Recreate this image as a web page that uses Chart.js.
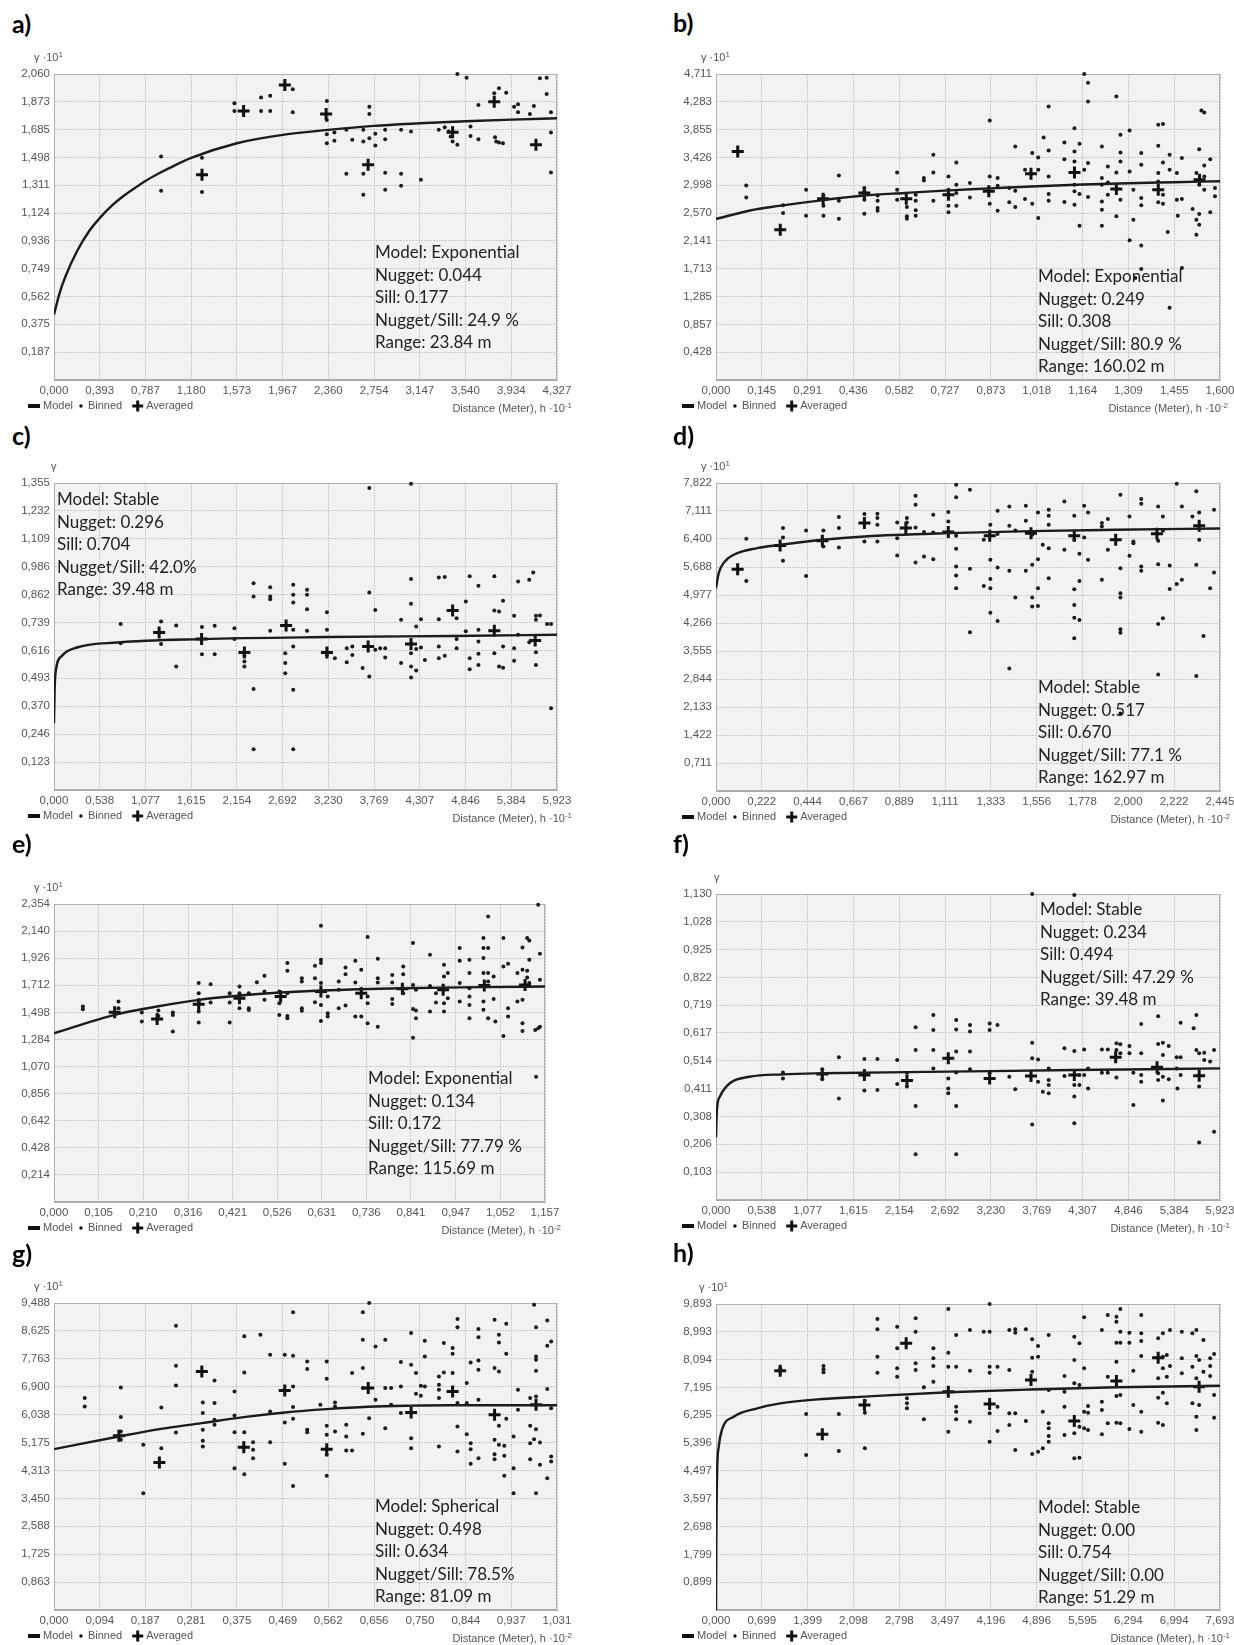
<!DOCTYPE html>
<html>
<head>
<meta charset="utf-8">
<script src="https://cdn.jsdelivr.net/npm/chart.js@4.4.0/dist/chart.umd.min.js"></script>
<style>
  html, body { margin: 0; padding: 0; background: #fff; width: 1234px; height: 1645px; overflow: hidden; position: relative; }
  canvas { position: absolute; }
  .lbl { position: absolute; font: bold 25px Lato, sans-serif; line-height: 30px; color: #000; }
  .note { position: absolute; font: 17px Lato, sans-serif; line-height: 22.5px; color: #222; white-space: pre; }
  .gam, .dist { position: absolute; font: 11px "Liberation Sans", Arial, sans-serif; line-height: 13px; color: #555; white-space: nowrap; }
  sup { font-size: 8px; vertical-align: 4px; line-height: 0; }
</style>
</head>
<body>
<script>
// ---- panel a ----
const aXTicks = ['0,000','0,393','0,787','1,180','1,573','1,967','2,360','2,754','3,147','3,540','3,934','4,327'];
const aYTicks = ['0,187','0,375','0,562','0,749','0,936','1,124','1,311','1,498','1,685','1,873','2,060'];
const aModel = [[0,0.44],[0.05,0.59],[0.1,0.70],[0.2,0.87],[0.3,1.0],[0.393,1.09],[0.5,1.175],[0.6,1.24],[0.7,1.295],[0.787,1.34],[0.9,1.39],[1.0,1.43],[1.18,1.495],[1.573,1.594],[1.967,1.65],[2.36,1.684],[2.754,1.711],[3.147,1.728],[3.54,1.742],[3.934,1.753],[4.327,1.762]];
const aBinned = [[0.921,1.505],[0.921,1.274],[1.273,1.496],[1.273,1.265],[1.552,1.863],[1.552,1.811],[1.781,1.901],[1.781,1.811],[1.860,1.914],[1.860,1.811],[2.054,1.957],[2.054,1.802],[2.347,1.878],[2.347,1.751],[2.347,1.655],[2.347,1.594],[2.412,1.666],[2.412,1.610],[2.515,1.684],[2.515,1.388],[2.566,1.617],[2.661,1.684],[2.661,1.605],[2.661,1.388],[2.661,1.247],[2.713,1.840],[2.713,1.791],[2.713,1.628],[2.764,1.657],[2.764,1.578],[2.849,1.684],[2.849,1.621],[2.849,1.395],[2.849,1.281],[2.986,1.684],[2.986,1.388],[2.986,1.308],[3.071,1.673],[3.156,1.348],[3.310,1.684],[3.361,1.702],[3.395,1.673],[3.412,1.639],[3.429,1.605],[3.470,1.583],[3.470,2.060],[3.549,2.035],[3.583,1.706],[3.583,1.643],[3.651,1.852],[3.651,1.621],[3.787,1.930],[3.794,1.634],[3.804,1.605],[3.828,1.964],[3.828,1.599],[3.862,1.594],[3.890,1.934],[3.958,1.840],[3.992,1.856],[3.992,1.802],[4.094,1.791],[4.128,1.845],[4.180,2.031],[4.238,2.035],[4.238,1.926],[4.275,1.802],[4.275,1.666],[4.275,1.397]];
const aAveraged = [[1.273,1.381],[1.631,1.811],[1.986,1.986],[2.341,1.791],[2.702,1.449],[3.429,1.668],[3.787,1.874],[4.146,1.583]];
const aNote = ['Model: Exponential','Nugget: 0.044','Sill: 0.177','Nugget/Sill: 24.9 %','Range: 23.84 m'];

// ---- panel b ----
const bXTicks = ['0,000','0,145','0,291','0,436','0,582','0,727','0,873','1,018','1,164','1,309','1,455','1,600'];
const bYTicks = ['0,428','0,857','1,285','1,713','2,141','2,570','2,998','3,426','3,855','4,283','4,711'];
const bModel = [[0,2.48],[0.108,2.61],[0.2,2.68],[0.34,2.77],[0.47,2.84],[0.6,2.88],[0.74,2.92],[0.87,2.95],[1.0,2.98],[1.164,3.01],[1.309,3.03],[1.455,3.045],[1.6,3.06]];
const bBinned = [[0.096,2.996],[0.096,2.811],[0.213,2.689],[0.213,2.571],[0.286,2.929],[0.286,2.530],[0.341,2.837],[0.341,2.683],[0.341,2.530],[0.390,3.149],[0.390,2.760],[0.390,2.484],[0.471,2.955],[0.471,2.904],[0.471,2.776],[0.471,2.561],[0.513,2.842],[0.513,2.760],[0.513,2.648],[0.513,2.607],[0.575,3.196],[0.575,2.929],[0.575,2.776],[0.606,2.663],[0.606,2.520],[0.606,2.484],[0.634,2.852],[0.634,2.760],[0.634,2.612],[0.634,2.530],[0.660,3.108],[0.660,3.073],[0.690,3.467],[0.690,3.196],[0.690,2.760],[0.738,3.134],[0.738,2.929],[0.738,2.683],[0.738,2.581],[0.763,3.349],[0.763,3.006],[0.763,2.878],[0.763,2.683],[0.806,3.032],[0.806,2.811],[0.869,3.995],[0.869,3.134],[0.869,2.714],[0.894,3.108],[0.894,2.991],[0.894,2.607],[0.931,2.955],[0.931,2.735],[0.950,3.595],[0.950,2.914],[0.950,2.663],[0.981,3.237],[0.981,2.786],[1.004,3.493],[1.004,2.714],[1.023,3.426],[1.023,3.237],[1.023,2.494],[1.040,3.733],[1.056,4.209],[1.056,3.533],[1.056,3.134],[1.056,2.863],[1.056,2.760],[1.106,3.656],[1.106,3.400],[1.106,2.740],[1.138,3.877],[1.138,3.518],[1.138,3.365],[1.138,3.006],[1.138,2.904],[1.138,2.699],[1.154,3.636],[1.154,2.863],[1.154,2.376],[1.169,4.711],[1.169,3.237],[1.181,4.578],[1.181,4.286],[1.181,3.339],[1.181,2.816],[1.225,3.595],[1.225,3.108],[1.225,3.006],[1.225,2.750],[1.225,2.622],[1.225,2.376],[1.244,3.288],[1.244,3.042],[1.244,2.852],[1.271,4.363],[1.271,3.196],[1.271,2.520],[1.284,3.774],[1.284,3.503],[1.284,3.365],[1.284,2.776],[1.313,3.841],[1.313,3.211],[1.313,2.151],[1.325,2.929],[1.325,2.468],[1.331,1.572],[1.350,3.493],[1.350,3.313],[1.350,2.801],[1.350,2.689],[1.350,2.069],[1.350,1.710],[1.404,3.928],[1.404,3.605],[1.404,3.185],[1.404,3.057],[1.404,2.735],[1.419,3.943],[1.419,3.349],[1.419,2.852],[1.419,2.714],[1.434,2.279],[1.440,3.467],[1.440,3.237],[1.440,1.111],[1.463,3.185],[1.463,2.776],[1.466,2.530],[1.479,3.416],[1.479,2.786],[1.479,1.726],[1.513,2.632],[1.525,3.185],[1.525,2.468],[1.525,2.238],[1.534,3.554],[1.534,3.006],[1.534,2.555],[1.534,2.391],[1.541,4.148],[1.550,4.117],[1.550,3.303],[1.550,3.134],[1.550,2.929],[1.569,3.400],[1.569,2.581],[1.584,2.955],[1.584,2.827]];
const bAveraged = [[0.069,3.518],[0.204,2.315],[0.340,2.791],[0.471,2.878],[0.604,2.791],[0.738,2.852],[0.866,2.904],[1.000,3.175],[1.138,3.196],[1.271,2.939],[1.404,2.929],[1.535,3.083]];
const bNote = ['Model: Exponential','Nugget: 0.249','Sill: 0.308','Nugget/Sill: 80.9 %','Range: 160.02 m'];

// ---- panel c ----
const cXTicks = ['0,000','0,538','1,077','1,615','2,154','2,692','3,230','3,769','4,307','4,846','5,384','5,923'];
const cYTicks = ['0,123','0,246','0,370','0,493','0,616','0,739','0,862','0,986','1,109','1,232','1,355'];
const cModel = [[0,0.295],[0.008,0.45],[0.023,0.53],[0.093,0.592],[0.28,0.630],[0.747,0.651],[1.738,0.666],[3.214,0.675],[4.694,0.680],[5.923,0.685]];
const cBinned = [[0.785,0.733],[0.785,0.648],[1.261,0.744],[1.261,0.644],[1.439,0.545],[1.439,0.726],[1.742,0.719],[1.742,0.599],[1.892,0.725],[1.892,0.599],[2.125,0.714],[2.125,0.666],[2.242,0.592],[2.242,0.567],[2.242,0.545],[2.350,0.913],[2.350,0.854],[2.350,0.446],[2.350,0.180],[2.546,0.895],[2.546,0.854],[2.546,0.842],[2.546,0.703],[2.723,0.604],[2.723,0.560],[2.723,0.515],[2.817,0.906],[2.817,0.862],[2.817,0.828],[2.817,0.707],[2.817,0.633],[2.817,0.442],[2.817,0.180],[2.980,0.884],[2.980,0.862],[2.980,0.798],[2.980,0.703],[3.214,0.784],[3.214,0.707],[3.214,0.596],[3.307,0.582],[3.447,0.626],[3.447,0.564],[3.513,0.633],[3.513,0.596],[3.634,0.538],[3.713,1.333],[3.713,0.872],[3.713,0.501],[3.783,0.795],[3.783,0.619],[3.840,0.626],[3.900,0.626],[3.900,0.585],[4.087,0.751],[4.087,0.560],[4.204,1.352],[4.204,0.931],[4.204,0.822],[4.204,0.604],[4.204,0.545],[4.204,0.496],[4.265,0.722],[4.265,0.622],[4.265,0.527],[4.321,0.754],[4.321,0.629],[4.367,0.574],[4.531,0.938],[4.531,0.754],[4.531,0.633],[4.531,0.582],[4.601,0.940],[4.601,0.592],[4.741,0.758],[4.741,0.667],[4.741,0.626],[4.849,0.832],[4.849,0.701],[4.895,0.943],[4.895,0.582],[4.895,0.533],[4.998,0.901],[4.998,0.707],[4.998,0.655],[4.998,0.601],[4.998,0.552],[5.185,0.943],[5.185,0.792],[5.185,0.604],[5.241,0.788],[5.241,0.545],[5.288,0.835],[5.288,0.633],[5.288,0.540],[5.418,0.769],[5.418,0.626],[5.418,0.570],[5.465,0.920],[5.465,0.685],[5.596,0.928],[5.596,0.652],[5.643,0.960],[5.675,0.769],[5.675,0.751],[5.675,0.608],[5.675,0.552],[5.722,0.770],[5.806,0.733],[5.853,0.733],[5.853,0.361]];
const cAveraged = [[1.238,0.695],[1.738,0.666],[2.242,0.607],[2.733,0.726],[3.214,0.607],[3.699,0.633],[4.204,0.644],[4.694,0.792],[5.185,0.703],[5.666,0.660]];
const cNote = ['Model: Stable','Nugget: 0.296','Sill: 0.704','Nugget/Sill: 42.0%','Range: 39.48 m'];

// ---- panel d ----
const dXTicks = ['0,000','0,222','0,444','0,667','0,889','1,111','1,333','1,556','1,778','2,000','2,222','2,445'];
const dYTicks = ['0,711','1,422','2,133','2,844','3,555','4,266','4,977','5,688','6,400','7,111','7,822'];
const dModel = [[0,5.15],[0.013,5.53],[0.038,5.80],[0.086,6.00],[0.2,6.17],[0.311,6.25],[0.516,6.38],[0.72,6.465],[1.127,6.549],[1.528,6.60],[1.939,6.634],[2.445,6.668]];
const dBinned = [[0.147,6.405],[0.147,5.336],[0.325,6.677],[0.325,6.439],[0.325,5.845],[0.437,6.617],[0.437,5.463],[0.521,6.617],[0.521,6.210],[0.596,6.957],[0.596,6.677],[0.596,6.185],[0.720,7.033],[0.720,6.337],[0.783,7.042],[0.783,6.931],[0.783,6.762],[0.783,6.337],[0.879,6.821],[0.879,6.422],[0.879,5.981],[0.926,6.931],[0.926,6.821],[0.968,7.500],[0.968,7.271],[0.968,6.694],[0.968,5.803],[1.009,5.956],[1.009,6.575],[1.054,7.016],[1.054,6.566],[1.054,5.888],[1.127,7.084],[1.127,6.846],[1.165,7.780],[1.165,7.457],[1.165,6.482],[1.165,6.151],[1.165,5.701],[1.165,5.472],[1.165,5.150],[1.232,7.652],[1.232,5.642],[1.232,4.030],[1.299,6.380],[1.299,5.209],[1.331,6.762],[1.331,5.871],[1.331,5.387],[1.331,5.150],[1.331,4.530],[1.366,7.118],[1.366,6.524],[1.366,5.676],[1.366,4.318],[1.423,7.228],[1.423,6.736],[1.423,5.591],[1.423,3.114],[1.452,6.617],[1.452,4.912],[1.503,7.245],[1.503,6.863],[1.503,5.591],[1.534,6.507],[1.534,5.743],[1.534,4.912],[1.534,4.683],[1.562,7.075],[1.562,5.888],[1.562,5.150],[1.562,4.700],[1.585,6.252],[1.614,7.143],[1.614,6.990],[1.614,6.762],[1.614,6.168],[1.614,5.404],[1.690,7.355],[1.690,6.125],[1.738,6.990],[1.738,6.380],[1.738,5.124],[1.738,4.725],[1.738,4.403],[1.738,3.877],[1.763,6.024],[1.763,5.336],[1.763,4.344],[1.786,7.245],[1.786,6.439],[1.805,7.075],[1.805,5.871],[1.872,6.804],[1.872,6.719],[1.872,5.362],[1.901,6.906],[1.901,6.125],[1.962,7.525],[1.962,5.659],[1.962,5.022],[1.962,4.912],[1.962,4.106],[1.962,4.021],[1.962,1.968],[2.006,6.974],[2.006,5.972],[2.025,6.337],[2.025,6.295],[2.063,7.415],[2.063,7.296],[2.063,5.701],[2.063,5.591],[2.145,7.228],[2.145,6.354],[2.145,5.761],[2.145,4.242],[2.145,2.961],[2.168,6.974],[2.168,6.609],[2.168,4.386],[2.201,5.727],[2.201,5.133],[2.235,7.805],[2.235,5.260],[2.260,7.228],[2.260,5.362],[2.311,6.974],[2.330,7.610],[2.330,5.743],[2.330,2.918],[2.344,7.075],[2.344,6.380],[2.365,3.936],[2.397,5.150],[2.416,7.143],[2.416,5.548]];
const dAveraged = [[0.105,5.633],[0.311,6.236],[0.516,6.354],[0.720,6.804],[0.921,6.677],[1.127,6.575],[1.328,6.482],[1.528,6.549],[1.738,6.482],[1.939,6.380],[2.139,6.532],[2.344,6.736]];
const dNote = ['Model: Stable','Nugget: 0.517','Sill: 0.670','Nugget/Sill: 77.1 %','Range: 162.97 m'];

// ---- panel e ----
const eXTicks = ['0,000','0,105','0,210','0,316','0,421','0,526','0,631','0,736','0,841','0,947','1,052','1,157'];
const eYTicks = ['0,214','0,428','0,642','0,856','1,070','1,284','1,498','1,712','1,926','2,140','2,354'];
const eModel = [[0,1.333],[0.143,1.478],[0.243,1.544],[0.341,1.597],[0.437,1.631],[0.534,1.655],[0.629,1.671],[0.821,1.689],[1.014,1.697],[1.157,1.702]];
const eBinned = [[0.068,1.544],[0.068,1.523],[0.152,1.583],[0.152,1.531],[0.207,1.496],[0.207,1.425],[0.246,1.512],[0.246,1.470],[0.280,1.496],[0.280,1.478],[0.280,1.346],[0.341,1.729],[0.341,1.649],[0.341,1.583],[0.341,1.504],[0.341,1.417],[0.369,1.721],[0.369,1.575],[0.414,1.649],[0.414,1.575],[0.414,1.417],[0.437,1.702],[0.437,1.649],[0.437,1.531],[0.459,1.649],[0.459,1.531],[0.459,1.517],[0.478,1.736],[0.496,1.787],[0.496,1.663],[0.496,1.597],[0.531,1.663],[0.531,1.570],[0.531,1.478],[0.550,1.887],[0.550,1.826],[0.550,1.649],[0.550,1.470],[0.550,1.451],[0.584,1.768],[0.584,1.742],[0.584,1.531],[0.584,1.510],[0.615,1.866],[0.615,1.768],[0.615,1.578],[0.629,2.183],[0.629,1.913],[0.629,1.887],[0.629,1.729],[0.629,1.557],[0.629,1.430],[0.645,1.623],[0.645,1.491],[0.645,1.465],[0.671,1.742],[0.671,1.676],[0.671,1.531],[0.687,1.853],[0.687,1.800],[0.687,1.552],[0.710,1.905],[0.710,1.734],[0.710,1.465],[0.724,1.834],[0.724,1.681],[0.724,1.465],[0.739,2.093],[0.739,1.623],[0.739,1.570],[0.739,1.412],[0.763,1.921],[0.763,1.768],[0.763,1.734],[0.763,1.385],[0.797,1.794],[0.797,1.734],[0.797,1.604],[0.797,1.565],[0.823,1.860],[0.823,1.800],[0.823,1.649],[0.846,2.045],[0.846,1.715],[0.846,1.525],[0.846,1.298],[0.853,1.676],[0.853,1.512],[0.853,1.451],[0.886,1.953],[0.886,1.707],[0.886,1.504],[0.900,1.649],[0.900,1.575],[0.919,1.874],[0.919,1.781],[0.919,1.676],[0.919,1.570],[0.919,1.504],[0.928,1.808],[0.928,1.610],[0.956,2.006],[0.956,1.905],[0.956,1.729],[0.956,1.583],[0.979,1.913],[0.979,1.808],[0.979,1.689],[0.979,1.623],[0.979,1.557],[0.979,1.451],[1.012,2.085],[1.012,2.006],[1.012,1.927],[1.012,1.808],[1.012,1.583],[1.012,1.518],[1.023,2.256],[1.023,2.006],[1.023,1.808],[1.023,1.742],[1.023,1.451],[1.036,1.781],[1.036,1.604],[1.040,1.425],[1.059,2.085],[1.059,1.860],[1.059,1.312],[1.070,1.882],[1.070,1.531],[1.070,1.465],[1.092,1.808],[1.092,1.583],[1.104,2.011],[1.104,1.834],[1.104,1.597],[1.104,1.412],[1.104,1.351],[1.115,2.085],[1.115,1.826],[1.115,1.773],[1.120,2.066],[1.120,1.913],[1.120,1.729],[1.134,1.359],[1.136,0.990],[1.141,2.349],[1.141,1.372],[1.145,1.961],[1.145,1.755],[1.145,1.385]];
const eAveraged = [[0.143,1.499],[0.243,1.446],[0.341,1.562],[0.437,1.610],[0.534,1.623],[0.629,1.663],[0.724,1.649],[0.821,1.684],[0.917,1.676],[1.014,1.710],[1.110,1.715]];
const eNote = ['Model: Exponential','Nugget: 0.134','Sill: 0.172','Nugget/Sill: 77.79 %','Range: 115.69 m'];

// ---- panel f ----
const fXTicks = ['0,000','0,538','1,077','1,615','2,154','2,692','3,230','3,769','4,307','4,846','5,384','5,923'];
const fYTicks = ['0,103','0,206','0,308','0,411','0,514','0,617','0,719','0,822','0,925','1,028','1,130'];
const fModel = [[0,0.231],[0.01,0.33],[0.046,0.382],[0.162,0.431],[0.393,0.455],[0.787,0.464],[1.249,0.468],[2.73,0.474],[4.211,0.480],[5.923,0.486]];
const fBinned = [[0.787,0.471],[0.787,0.449],[1.249,0.483],[1.249,0.446],[1.444,0.527],[1.444,0.375],[1.744,0.521],[1.744,0.404],[1.897,0.521],[1.897,0.406],[2.129,0.517],[2.129,0.428],[2.244,0.470],[2.244,0.419],[2.346,0.638],[2.346,0.554],[2.346,0.347],[2.346,0.169],[2.554,0.683],[2.554,0.628],[2.554,0.554],[2.554,0.486],[2.730,0.449],[2.730,0.412],[2.730,0.394],[2.823,0.665],[2.823,0.630],[2.823,0.548],[2.823,0.471],[2.823,0.347],[2.823,0.169],[2.985,0.646],[2.985,0.622],[2.985,0.548],[2.985,0.483],[3.216,0.652],[3.216,0.628],[3.216,0.468],[3.308,0.646],[3.447,0.455],[3.517,0.409],[3.716,1.130],[3.716,0.581],[3.716,0.523],[3.716,0.279],[3.785,0.519],[3.785,0.437],[3.841,0.400],[3.910,0.486],[3.910,0.443],[3.910,0.425],[3.910,0.394],[4.095,0.560],[4.095,0.458],[4.211,1.126],[4.211,0.550],[4.211,0.425],[4.211,0.382],[4.211,0.283],[4.271,0.425],[4.271,0.462],[4.327,0.556],[4.327,0.462],[4.373,0.412],[4.373,0.486],[4.535,0.556],[4.535,0.470],[4.604,0.556],[4.604,0.470],[4.706,0.579],[4.706,0.554],[4.706,0.452],[4.752,0.575],[4.752,0.542],[4.859,0.569],[4.859,0.542],[4.905,0.470],[4.905,0.351],[4.997,0.650],[4.997,0.542],[4.997,0.462],[4.997,0.437],[5.196,0.679],[5.196,0.576],[5.196,0.468],[5.196,0.443],[5.252,0.581],[5.252,0.535],[5.252,0.455],[5.252,0.367],[5.321,0.569],[5.321,0.446],[5.414,0.527],[5.414,0.486],[5.423,0.412],[5.460,0.655],[5.460,0.527],[5.460,0.462],[5.613,0.634],[5.645,0.683],[5.645,0.554],[5.678,0.542],[5.678,0.419],[5.678,0.212],[5.738,0.544],[5.738,0.517],[5.807,0.511],[5.853,0.554],[5.853,0.252]];
const fAveraged = [[1.249,0.465],[1.744,0.462],[2.244,0.441],[2.730,0.523],[3.216,0.449],[3.702,0.458],[4.211,0.462],[4.697,0.527],[5.183,0.490],[5.678,0.459]];
const fNote = ['Model: Stable','Nugget: 0.234','Sill: 0.494','Nugget/Sill: 47.29 %','Range: 39.48 m'];

// ---- panel g ----
const gXTicks = ['0,000','0,094','0,187','0,281','0,375','0,469','0,562','0,656','0,750','0,844','0,937','1,031'];
const gYTicks = ['0,863','1,725','2,588','3,450','4,313','5,175','6,038','6,900','7,763','8,625','9,488'];
const gModel = [[0,4.971],[0.133,5.362],[0.216,5.589],[0.303,5.775],[0.389,5.961],[0.473,6.105],[0.559,6.208],[0.644,6.281],[0.732,6.315],[0.811,6.33],[1.031,6.33]];
const gBinned = [[0.063,6.549],[0.063,6.291],[0.137,6.879],[0.137,5.961],[0.137,5.517],[0.137,5.260],[0.183,5.105],[0.183,3.610],[0.220,6.260],[0.220,5.002],[0.250,8.787],[0.250,7.549],[0.250,6.941],[0.250,5.487],[0.305,6.415],[0.305,6.085],[0.305,5.569],[0.305,5.229],[0.305,5.053],[0.329,7.095],[0.329,6.394],[0.329,5.878],[0.329,5.724],[0.370,6.755],[0.370,6.012],[0.370,5.497],[0.370,4.383],[0.390,8.457],[0.390,7.343],[0.390,5.497],[0.390,4.197],[0.408,5.187],[0.408,4.950],[0.408,4.692],[0.423,8.508],[0.443,7.889],[0.443,6.136],[0.443,5.187],[0.473,7.889],[0.473,5.796],[0.473,4.517],[0.490,9.199],[0.490,7.858],[0.490,6.910],[0.490,6.270],[0.490,5.909],[0.490,3.836],[0.519,7.683],[0.519,7.446],[0.519,5.569],[0.519,5.497],[0.546,6.342],[0.559,7.683],[0.559,7.147],[0.559,5.693],[0.559,5.414],[0.559,4.795],[0.559,4.146],[0.576,6.415],[0.576,6.291],[0.576,5.517],[0.599,5.724],[0.599,5.363],[0.599,4.930],[0.611,7.322],[0.611,4.930],[0.633,9.199],[0.633,8.353],[0.633,7.477],[0.633,6.858],[0.633,5.445],[0.646,9.488],[0.646,5.930],[0.659,8.147],[0.659,6.497],[0.679,8.353],[0.679,6.858],[0.679,5.620],[0.691,6.858],[0.691,6.342],[0.711,7.662],[0.711,6.910],[0.711,6.085],[0.732,8.560],[0.732,7.580],[0.732,5.311],[0.732,5.002],[0.742,7.322],[0.742,6.683],[0.752,6.930],[0.752,6.621],[0.760,8.322],[0.760,7.838],[0.760,6.910],[0.789,7.219],[0.789,6.961],[0.789,6.807],[0.789,6.549],[0.789,5.053],[0.799,8.250],[0.799,7.343],[0.817,8.096],[0.817,7.920],[0.817,7.322],[0.827,8.993],[0.827,8.735],[0.827,6.394],[0.827,5.672],[0.827,4.899],[0.846,7.013],[0.846,6.394],[0.846,5.435],[0.854,7.652],[0.854,5.157],[0.854,4.971],[0.854,4.517],[0.870,8.684],[0.870,8.426],[0.870,7.714],[0.870,7.425],[0.870,6.497],[0.870,4.692],[0.903,8.972],[0.903,7.477],[0.903,5.260],[0.903,4.816],[0.903,4.661],[0.912,8.508],[0.912,8.271],[0.912,7.374],[0.912,5.693],[0.912,5.105],[0.923,5.074],[0.923,4.765],[0.923,4.146],[0.927,8.849],[0.927,7.920],[0.927,5.909],[0.942,5.363],[0.942,4.383],[0.942,3.610],[0.951,6.807],[0.951,6.188],[0.976,6.549],[0.976,5.693],[0.976,5.157],[0.976,4.661],[0.984,9.436],[0.984,5.280],[0.988,8.735],[0.988,7.838],[0.988,7.735],[0.988,7.394],[0.988,6.600],[0.988,5.590],[0.988,3.610],[0.996,5.177],[0.996,4.486],[1.011,8.951],[1.011,8.168],[1.011,6.827],[1.011,4.074],[1.019,8.302],[1.019,6.239],[1.019,4.744],[1.019,4.589]];
const gAveraged = [[0.133,5.383],[0.216,4.558],[0.303,7.374],[0.389,5.033],[0.473,6.786],[0.559,4.971],[0.644,6.858],[0.732,6.105],[0.817,6.755],[0.903,6.033],[0.988,6.343]];
const gNote = ['Model: Spherical','Nugget: 0.498','Sill: 0.634','Nugget/Sill: 78.5%','Range: 81.09 m'];

// ---- panel h ----
const hXTicks = ['0,000','0,699','1,399','2,098','2,798','3,497','4,196','4,896','5,595','6,294','6,994','7,693'];
const hYTicks = ['0,899','1,799','2,698','3,597','4,497','5,396','6,295','7,195','8,094','8,993','9,893'];
const hModel = [[0,0],[0.006,2.59],[0.018,4.53],[0.042,5.28],[0.09,5.82],[0.27,6.25],[0.63,6.52],[0.98,6.68],[1.62,6.82],[2.27,6.90],[3.55,7.04],[4.81,7.13],[6.11,7.20],[7.693,7.25]];
const hBinned = [[0.980,7.813],[0.980,7.705],[1.376,6.337],[1.376,5.011],[1.641,7.889],[1.641,7.781],[1.641,7.684],[1.875,6.337],[1.875,5.141],[2.272,6.768],[2.272,6.380],[2.272,5.227],[2.464,9.408],[2.464,9.074],[2.464,8.191],[2.464,7.673],[2.765,9.160],[2.765,8.460],[2.765,7.813],[2.765,7.544],[2.915,6.843],[2.915,6.682],[2.915,6.520],[3.047,9.430],[3.047,8.999],[3.047,7.975],[3.047,7.759],[3.173,7.199],[3.173,6.164],[3.318,8.460],[3.318,8.137],[3.318,7.889],[3.318,7.382],[3.546,9.731],[3.546,8.320],[3.546,7.867],[3.546,5.766],[3.666,8.891],[3.666,7.867],[3.666,6.574],[3.666,6.412],[3.666,6.164],[3.876,9.053],[3.876,7.738],[3.876,6.089],[4.087,8.999],[4.177,9.893],[4.177,8.999],[4.177,7.867],[4.177,7.673],[4.177,6.358],[4.177,5.442],[4.297,7.867],[4.297,6.574],[4.297,5.787],[4.477,9.053],[4.477,7.759],[4.477,6.358],[4.477,5.981],[4.568,9.074],[4.568,8.967],[4.568,6.358],[4.568,5.173],[4.730,9.074],[4.730,6.111],[4.826,8.751],[4.826,8.158],[4.826,7.705],[4.826,5.044],[4.916,8.535],[4.916,8.191],[4.916,5.119],[4.988,6.412],[4.988,5.227],[5.078,8.891],[5.078,7.113],[5.078,6.035],[5.078,5.873],[5.078,5.626],[5.078,5.442],[5.319,7.565],[5.319,7.059],[5.319,6.574],[5.319,5.658],[5.469,8.837],[5.469,8.083],[5.469,7.328],[5.469,5.712],[5.469,4.903],[5.547,8.622],[5.547,7.274],[5.547,5.927],[5.547,4.925],[5.619,9.462],[5.619,7.813],[5.619,6.412],[5.619,5.873],[5.679,6.596],[5.679,6.380],[5.679,5.819],[5.890,9.053],[5.890,6.736],[5.890,6.466],[5.890,5.679],[5.980,9.538],[5.980,7.544],[5.980,6.035],[6.112,9.484],[6.112,9.322],[6.112,8.643],[6.112,8.029],[6.112,6.919],[6.112,6.057],[6.172,9.731],[6.172,8.999],[6.172,8.643],[6.172,6.951],[6.172,6.035],[6.310,8.967],[6.310,8.643],[6.310,5.852],[6.370,7.738],[6.370,6.628],[6.491,9.538],[6.491,8.945],[6.491,8.697],[6.491,8.212],[6.491,6.412],[6.491,5.766],[6.749,8.783],[6.749,7.490],[6.749,6.865],[6.749,6.057],[6.821,8.945],[6.821,8.191],[6.821,7.813],[6.821,7.027],[6.821,5.981],[6.881,8.245],[6.881,7.544],[6.881,6.682],[6.930,9.053],[6.930,7.889],[7.110,8.999],[7.110,8.137],[7.110,7.651],[7.272,8.945],[7.272,7.867],[7.272,6.682],[7.332,9.053],[7.332,8.212],[7.332,7.490],[7.332,6.251],[7.332,5.819],[7.374,8.083],[7.374,6.628],[7.440,8.730],[7.440,7.705],[7.543,8.137],[7.543,7.889],[7.543,7.565],[7.603,8.277],[7.603,6.951],[7.603,6.218]];
const hAveraged = [[0.980,7.738],[1.623,5.679],[2.266,6.628],[2.903,8.622],[3.546,7.059],[4.177,6.660],[4.808,7.436],[5.469,6.111],[6.112,7.404],[6.749,8.158],[7.374,7.221]];
const hNote = ['Model: Stable','Nugget: 0.00','Sill: 0.754','Nugget/Sill: 0.00','Range: 51.29 m'];

const legendNames = ['Model', 'Binned', 'Averaged'];

// layout of each panel on the page (plot box = left, top, right, bottom)
const panels = [
  {name:'a)', xT:aXTicks, yT:aYTicks, model:aModel, binned:aBinned, avg:aAveraged, note:aNote, yExp:'1', xExp:'-1',
   plot:[54,74,557,380], legX:28, lab:[12,25], notePos:[375,253], gamDx:-20, distDx:15},
  {name:'b)', xT:bXTicks, yT:bYTicks, model:bModel, binned:bBinned, avg:bAveraged, note:bNote, yExp:'1', xExp:'-2',
   plot:[716,74,1220,380], legX:682, lab:[673,24], notePos:[1038,277], gamDx:-15, distDx:8},
  {name:'c)', xT:cXTicks, yT:cYTicks, model:cModel, binned:cBinned, avg:cAveraged, note:cNote, yExp:null, xExp:'-1',
   plot:[54,483,557,790], legX:28, lab:[12,437], notePos:[57,500], gamDx:-3, distDx:15},
  {name:'d)', xT:dXTicks, yT:dYTicks, model:dModel, binned:dBinned, avg:dAveraged, note:dNote, yExp:'1', xExp:'-2',
   plot:[716,483,1220,791], legX:682, lab:[673,437], notePos:[1038,688], gamDx:-15, distDx:10},
  {name:'e)', xT:eXTicks, yT:eYTicks, model:eModel, binned:eBinned, avg:eAveraged, note:eNote, yExp:'1', xExp:'-2',
   plot:[54,904,545,1202], legX:28, lab:[12,845], notePos:[368,1079], gamDx:-20, distDx:16},
  {name:'f)', xT:fXTicks, yT:fYTicks, model:fModel, binned:fBinned, avg:fAveraged, note:fNote, yExp:null, xExp:'-1',
   plot:[716,894,1220,1200], legX:682, lab:[673,845], notePos:[1040,910], gamDx:-2, distDx:10},
  {name:'g)', xT:gXTicks, yT:gYTicks, model:gModel, binned:gBinned, avg:gAveraged, note:gNote, yExp:'1', xExp:'-2',
   plot:[54,1303,557,1610], legX:28, lab:[12,1255], notePos:[375,1507], gamDx:-20, distDx:15},
  {name:'h)', xT:hXTicks, yT:hYTicks, model:hModel, binned:hBinned, avg:hAveraged, note:hNote, yExp:'1', xExp:'-1',
   plot:[716,1304,1220,1610], legX:682, lab:[673,1254], notePos:[1038,1508], gamDx:-17, distDx:10}
];

Chart.defaults.font.family = "'Liberation Sans', Arial, sans-serif";
Chart.defaults.animation = false;

function num(s) { return parseFloat(s.replace(',', '.')); }
function pts(arr) { return arr.map(function (p) { return {x: p[0], y: p[1]}; }); }

// gray plot background and frame
const framePlugin = {
  id: 'frame',
  beforeDraw: function (chart) {
    var a = chart.chartArea, ctx = chart.ctx;
    ctx.save();
    ctx.fillStyle = '#f2f2f2';
    ctx.fillRect(a.left, a.top, a.right - a.left, a.bottom - a.top);
    ctx.restore();
  },
  beforeDatasetsDraw: function (chart) {
    var a = chart.chartArea, ctx = chart.ctx;
    ctx.save();
    ctx.strokeStyle = '#b0b0b0';
    ctx.lineWidth = 1;
    ctx.strokeRect(a.left + 0.5, a.top + 0.5, a.right - a.left - 1, a.bottom - a.top - 1);
    ctx.restore();
  }
};

// legend row under the x axis: bar = Model, dot = Binned, cross = Averaged
const legendRow = {
  id: 'legendRow',
  afterDraw: function (chart, args, opts) {
    var ctx = chart.ctx;
    var y = chart.chartArea.bottom + 26;
    var x = opts.x;
    ctx.save();
    ctx.font = "11px 'Liberation Sans', Arial, sans-serif";
    ctx.textBaseline = 'middle';
    ctx.fillStyle = '#111';
    ctx.fillRect(x, y - 2, 12, 4);
    x += 15;
    ctx.fillStyle = '#555';
    ctx.fillText(legendNames[0], x, y);
    x += ctx.measureText(legendNames[0]).width + 8;
    ctx.fillStyle = '#111';
    ctx.beginPath(); ctx.arc(x, y, 1.7, 0, Math.PI * 2); ctx.fill();
    x += 7;
    ctx.fillStyle = '#555';
    ctx.fillText(legendNames[1], x, y);
    x += ctx.measureText(legendNames[1]).width + 10;
    ctx.fillStyle = '#111';
    ctx.fillRect(x + 4, y - 5.5, 3, 11);
    ctx.fillRect(x, y - 1.5, 11, 3);
    x += 14;
    ctx.fillStyle = '#555';
    ctx.fillText(legendNames[2], x, y);
    ctx.restore();
  }
};

function addDiv(cls, html, left, top) {
  var d = document.createElement('div');
  d.className = cls;
  d.innerHTML = html;
  d.style.left = left + 'px';
  d.style.top = top + 'px';
  document.body.appendChild(d);
  return d;
}

panels.forEach(function (p) {
  var pl = p.plot[0], pt = p.plot[1], pr = p.plot[2], pb = p.plot[3];
  var cl = pl - 50;
  var cv = document.createElement('canvas');
  cv.width = pr - pl + 80;
  cv.height = pb - pt + 30 + 18 + 22;
  cv.style.left = cl + 'px';
  cv.style.top = (pt - 30) + 'px';
  document.body.appendChild(cv);

  var xVals = p.xT.map(num), yVals = p.yT.map(num);
  var tickFont = {size: 11.5};

  new Chart(cv, {
    type: 'scatter',
    data: {
      datasets: [
        {type: 'line', label: 'Model', data: pts(p.model), borderColor: '#1c1c1c', borderWidth: 2.4,
         pointRadius: 0, cubicInterpolationMode: 'monotone', fill: false},
        {label: 'Binned', data: pts(p.binned), pointStyle: 'circle', pointRadius: 2,
         backgroundColor: '#1a1a1a', borderWidth: 0, clip: false},
        {label: 'Averaged', data: pts(p.avg), pointStyle: 'cross', pointRadius: 6,
         borderColor: '#111', borderWidth: 3, clip: false}
      ]
    },
    options: {
      responsive: false,
      devicePixelRatio: 1,
      events: [],
      layout: {padding: {left: 6, top: 30, right: 30, bottom: 22}},
      scales: {
        x: {
          type: 'linear', min: 0, max: xVals[xVals.length - 1],
          afterBuildTicks: function (s) { s.ticks = xVals.map(function (v) { return {value: v}; }); },
          afterFit: function (s) { s.height = 18; },
          ticks: {autoSkip: false, maxRotation: 0, padding: 4, color: '#555', font: tickFont,
                  callback: function (v, i) { return p.xT[i]; }},
          grid: {color: '#c9c9c9', drawTicks: false},
          border: {display: true, color: '#a8a8a8', dash: [2, 1]}
        },
        y: {
          type: 'linear', min: 0, max: yVals[yVals.length - 1],
          afterBuildTicks: function (s) { s.ticks = [{value: 0}].concat(yVals.map(function (v) { return {value: v}; })); },
          afterFit: function (s) { s.width = 44; },
          ticks: {padding: 4, color: '#555', font: tickFont,
                  callback: function (v, i) { return i === 0 ? '' : p.yT[i - 1]; }},
          grid: {color: '#c9c9c9', drawTicks: false},
          border: {display: true, color: '#a8a8a8', dash: [2, 1]}
        }
      },
      plugins: {
        tooltip: {enabled: false},
        legend: {display: false},
        legendRow: {x: p.legX - cl}
      }
    },
    plugins: [framePlugin, legendRow]
  });

  // texts around the plot
  addDiv('lbl', p.name, p.lab[0], p.lab[1] - 17.5);
  addDiv('gam', p.yExp ? 'γ ·10<sup>' + p.yExp + '</sup>' : 'γ', pl + p.gamDx, pt - 17 - 6.3);
  var dist = addDiv('dist', 'Distance (Meter), h ·10<sup>' + p.xExp + '</sup>', 0, pb + 28 - 6.3);
  dist.style.left = 'auto';
  dist.style.right = (1234 - (pr + p.distDx)) + 'px';
  addDiv('note', p.note.join('\n'), p.notePos[0], p.notePos[1] - 11.7);
});
</script>
</body>
</html>
